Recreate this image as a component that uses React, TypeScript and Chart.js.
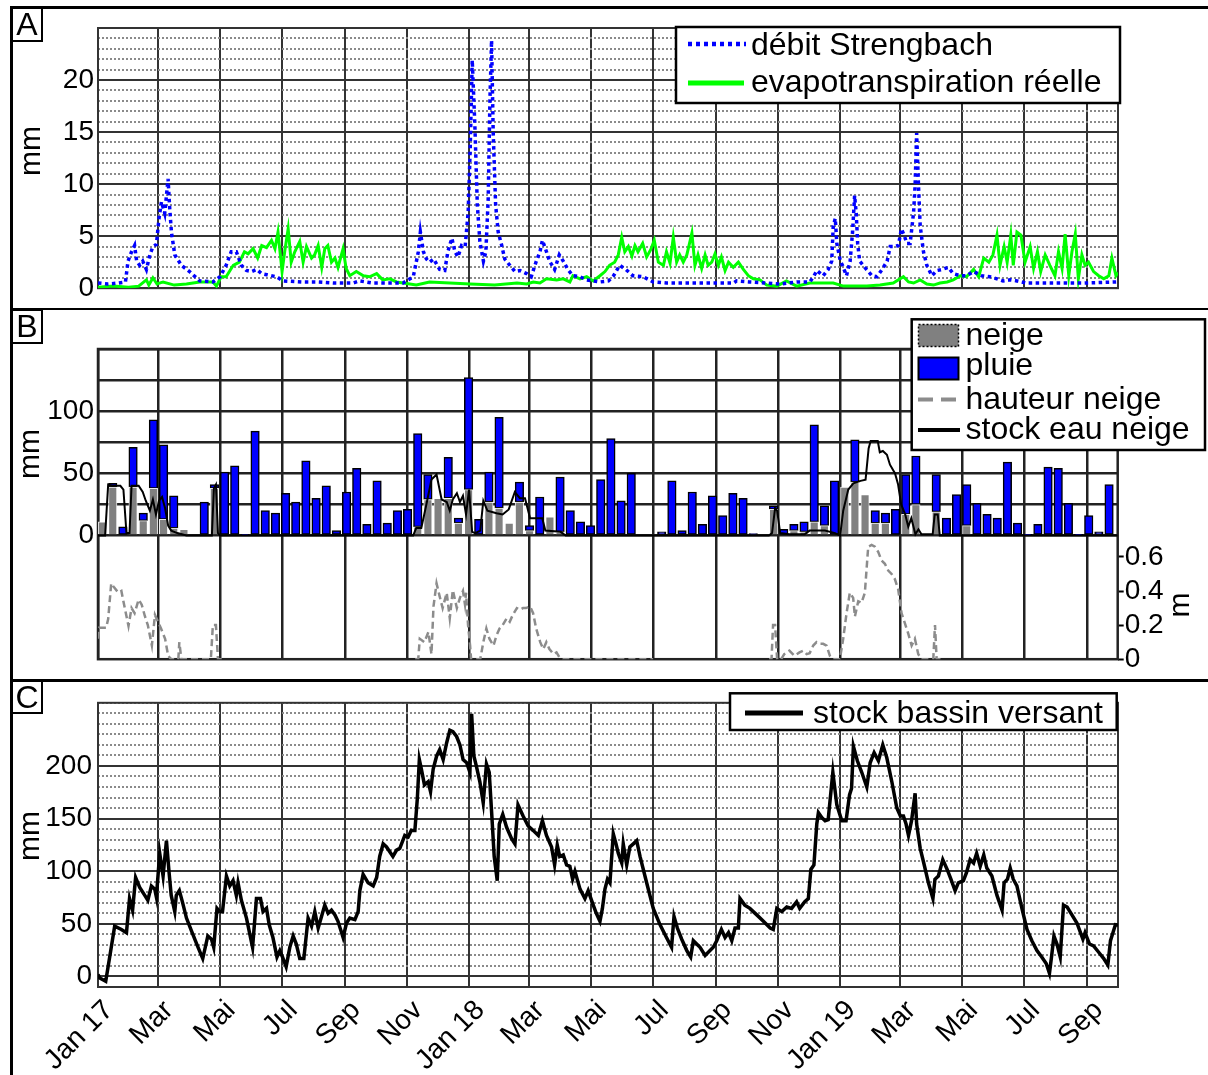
import React, { useEffect, useRef } from 'react';
import { Chart, registerables } from 'chart.js';

Chart.register(...registerables);

const FONT = '"Liberation Sans", Arial, Helvetica, sans-serif';

// ---------- shared time axis (days since 1 Jan 2017) ----------
const monthTickDays = [0, 59, 120, 181, 243, 304, 365, 424, 485, 546, 608, 669, 730, 789, 850, 911, 973];
const monthTickLabels = ['Jan 17', 'Mar', 'Mai', 'Jul', 'Sep', 'Nov', 'Jan 18', 'Mar', 'Mai', 'Jul', 'Sep', 'Nov', 'Jan 19', 'Mar', 'Mai', 'Jul', 'Sep'];
const xMaxDay = 1003;

// ---------- Panel A ----------
const debitStrengbach: [number, number][] = [
  [0, 0.5], [10, 0.4], [20, 0.5], [27, 0.6], [29.5, 2.6], [33, 3.5], [36, 4.1], [38, 2.6], [41, 2.2], [44, 2.6], [47.6, 1.8], [51, 3.2], [54, 4.0], [57.4, 4.2], [60, 6.7], [62.4, 8.3], [65.6, 7.2], [68.9, 10.5], [70.5, 7.7], [72.2, 5.4], [75.5, 3.2], [82, 2.2], [90, 1.6], [100, 0.7], [113, 0.6], [120, 1.1], [126, 2.2], [131, 3.5], [136, 3.5], [141, 2.2], [146, 1.7], [151, 1.6], [156, 1.8], [161, 1.4], [166, 1.3], [175.5, 1.1], [182, 0.7], [200, 0.6], [215, 0.6], [231, 0.5], [251, 0.5], [257, 0.7], [270, 0.5], [300, 0.5],
  [310, 1.1], [315, 3.5], [317, 5.4], [320, 3.5], [323, 2.8], [326, 2.5], [330, 2.8], [336, 1.8], [341, 1.7], [344, 3.5], [348, 4.8], [351, 3.5], [354, 3.0], [357.5, 4.1], [361, 4.0], [364, 7.3], [366, 13.4], [368, 21.9], [370.6, 15.6], [373, 8.0], [375.5, 4.5], [379, 2.6], [381.4, 3.5], [383.7, 8.6], [385.4, 18.1], [387, 23.8], [388.6, 15.0], [391, 8.0], [393.5, 5.4], [397, 4.1], [400, 2.8], [405, 2.2], [410, 1.6], [415, 1.7], [421.5, 1.4], [426, 1.1], [431, 2.6], [434.6, 3.5], [437, 4.6], [441, 3.5], [444, 2.6], [449, 1.8], [453.6, 3.2], [457.5, 2.6], [462, 1.8], [467, 1.2], [474, 1.1], [480.5, 0.8], [487, 0.7], [493.6, 0.6], [502, 0.7], [507, 1.2], [513, 2.2], [519, 1.8], [526, 1.2], [536, 1.1], [546, 0.6], [559, 0.5], [592, 0.5], [625, 0.5], [628, 0.7], [640, 0.6], [658, 0.5], [671, 0.4], [687, 0.6],
  [700, 0.6], [703.5, 1.1], [707, 1.7], [713, 1.2], [718, 1.8], [721.5, 2.6], [723, 6.0], [725, 6.7], [726.5, 4.3], [730, 2.6], [732, 2.2], [736, 1.2], [739.6, 2.6], [742, 5.4], [744, 8.9], [745.6, 7.2], [747, 4.3], [749, 2.6], [754, 2.0], [761, 1.2], [766, 1.1], [771, 1.8], [776, 2.6], [779, 4.0], [784, 4.0], [787, 4.1], [790, 5.7], [793, 5.0], [795.4, 4.3], [798.6, 4.3], [802, 7.3], [803.5, 9.9], [805, 14.9], [806.8, 9.9], [808.5, 6.0], [811.7, 3.5], [815, 2.2], [820, 1.2], [825, 1.7], [830, 1.8], [836, 2.0], [841, 1.4], [848, 1.2], [854, 1.2], [861, 1.6], [869, 1.2], [877, 1.1], [884, 0.9], [890, 0.7], [897, 0.8], [903.6, 0.7], [913, 0.5], [940, 0.5], [970, 0.5], [1003, 0.6],
];

const evapotranspiration: [number, number][] = [
  [0, 0.1], [15, 0.2], [30, 0.1], [40, 0.2], [47.6, 0.8], [50, 0.3], [54, 1.0], [58, 0.4], [64, 0.6], [75, 0.3], [87, 0.4], [100, 0.6], [113, 0.6], [116.5, 0.2], [121, 1.1], [126, 1.1], [133, 2.2], [139, 2.5], [144, 3.5], [147.6, 3.3], [152.5, 3.8], [157, 2.9], [161, 4.1], [165.7, 3.9], [170.6, 4.6], [174, 3.8], [177, 5.4], [181, 1.6], [183.7, 3.6], [187, 5.7], [190, 2.5], [193.5, 3.5], [198.4, 4.5], [201.7, 2.5], [205, 4.0], [210, 2.9], [213, 3.2], [216.5, 4.1], [220, 2.0], [223, 3.8], [226, 4.1], [229.6, 2.5], [233, 2.9], [236, 2.0], [241, 3.8], [244, 1.9], [247.6, 1.2], [254, 1.6], [261, 1.2], [267, 1.1], [274, 1.4], [280, 0.8], [287, 0.9], [293.6, 0.6],
  [300, 0.5], [313, 0.3], [326, 0.6], [346, 0.5], [366, 0.4], [390, 0.3], [412, 0.5], [421.5, 0.4], [428, 0.6], [434.6, 0.5], [441, 0.9], [451, 0.8], [457.5, 0.9], [464, 0.6], [467, 1.2], [474, 0.9], [480.5, 1.1], [487, 0.7], [493.6, 1.2], [498.5, 1.6], [503, 2.2], [508, 2.5], [511.6, 3.2], [515, 4.9], [518, 3.5], [521.5, 4.0], [525, 3.1], [528, 4.1], [531, 3.5], [535.6, 4.3], [539.5, 3.0], [543.5, 3.7], [547, 4.6], [551, 2.5], [556, 2.2], [559, 3.5], [562.5, 2.4], [565.7, 4.9], [569, 2.5], [572, 3.2], [575.5, 2.5], [579, 3.2], [584, 5.3], [587, 2.2], [590, 3.2], [593.6, 1.9], [597, 3.2], [600, 2.2], [603.5, 2.5], [606.7, 3.3], [610, 2.2], [613, 3.0], [616.6, 1.7], [620, 2.5], [624.7, 2.0], [629.7, 2.5], [634.6, 1.8], [639.5, 1.2], [644.4, 0.9], [651, 0.8], [657.6, 0.3], [667.5, 0.2], [677, 0.7], [687, 0.2],
  [700, 0.5], [723, 0.5], [733, 0.2], [756, 0.2], [769, 0.3], [782, 0.5], [792, 1.1], [797, 0.6], [802, 0.5], [808.5, 0.8], [815, 0.4], [821.5, 0.3], [828, 0.5], [835, 0.6], [841, 0.8], [848, 1.2], [854, 1.1], [861, 1.8], [866, 1.1], [871, 2.9], [876, 2.5], [880, 3.2], [884, 5.1], [887, 2.2], [891, 4.0], [894, 2.5], [897.6, 5.1], [900, 2.2], [903.6, 5.4], [907.5, 5.1], [911.6, 2.5], [916.6, 4.0], [920, 1.9], [923.8, 3.5], [927, 1.6], [931.4, 3.2], [936, 2.2], [941, 1.2], [944.5, 3.5], [948, 1.9], [951, 5.2], [954.6, 1.2], [957.7, 3.5], [961, 5.2], [964, 0.9], [967.5, 3.2], [970.6, 2.2], [974, 2.5], [979, 1.6], [984, 1.2], [989, 0.9], [994, 1.2], [997, 2.9], [1001, 1.2], [1003, 1.5],
];

// ---------- Panel B (10-day totals, mm) ----------
const neigeValues = [
  11, 39, 0, 39, 12, 38, 13, 6, 5, 0,
  0, 38, 0, 0, 0, 0, 0, 0, 0, 0,
  0, 0, 0, 0, 0, 0, 0, 0, 0, 0,
  0, 7, 29, 30, 30, 10, 37, 0, 27, 22,
  10, 27, 4, 0, 15, 3, 0, 0, 0, 0,
  0, 0, 0, 0, 0, 0, 0, 0, 0, 0,
  0, 0, 0, 0, 0, 0, 21, 0, 4, 3,
  11, 8, 0, 39, 43, 33, 10, 10, 0, 17,
  25, 0, 19, 0, 0, 8, 0, 0, 0, 0,
  0, 0, 0, 0, 0, 0, 0, 0, 0, 0,
];
const pluieValues = [
  0, 3, 7, 32, 6, 55, 60, 26, 0, 0,
  27, 3, 51, 56, 1, 84, 20, 18, 34, 27,
  60, 30, 40, 4, 35, 54, 9, 44, 10, 20,
  21, 75, 20, 0, 33, 4, 90, 13, 24, 73,
  0, 16, 4, 31, 0, 44, 20, 11, 8, 45,
  78, 28, 50, 0, 0, 3, 44, 4, 35, 9,
  32, 16, 34, 30, 1.5, 0, 3, 5, 5, 8,
  78, 16, 44, 0, 34, 0, 10, 8, 21, 32,
  39, 0, 30, 14, 33, 33, 26, 17, 14, 59,
  10, 0.5, 9, 55, 54, 26, 0.5, 16, 3, 41,
];
const binLengthDays = 10;

const stockEauNeige: [number, number][] = [
  [0, 0], [7, 0], [10, 41], [14, 40], [22, 40], [25, 37], [28, 2], [31, 2], [33, 40], [40, 40], [44, 35], [47, 28], [51, 20], [54, 29], [57, 17], [60, 28], [63, 31], [66, 22], [69, 8], [72, 4], [78, 2], [87, 0], [112, 0], [114, 38], [116, 41], [118, 2], [120, 0],
  [305, 0], [310, 0], [313, 6], [318, 6], [323, 25], [328, 45], [333, 49], [338, 29], [343, 27], [346, 20], [349, 29], [353, 34], [356, 27], [359, 32], [362, 17], [365, 37], [368, 3], [371, 2], [376, 4], [379, 28], [383, 20], [392, 18], [398, 17], [404, 21], [410, 35], [415, 30], [420, 30], [425, 14], [437, 14], [440, 4], [455, 3], [460, 0],
  [660, 0], [663, 2], [666, 22], [668, 20], [671, 2], [680, 1], [695, 1], [700, 4], [715, 4], [725, 2], [730, 0], [733, 20], [738, 37], [743, 42], [750, 44], [755, 45], [758, 70], [760, 76], [767, 76], [769, 67], [772, 68], [776, 65], [779, 57], [784, 50], [787, 41], [790, 25], [794, 17], [797, 7], [800, 14], [804, 1], [807, 5], [810, 1], [821, 1], [823, 17], [826, 17], [828, 0], [1003, 0],
];

const hauteurNeige: [number, number | null][] = [
  [0, 0.12], [1, 0.185], [8, 0.185], [10, 0.235], [13, 0.445], [16, 0.42], [20, 0.39], [23, 0.40], [26, 0.31], [30, 0.195], [33, 0.30], [36, 0.27], [40, 0.35], [43, 0.32], [46, 0.255], [49, 0.20], [53, 0.08], [56, 0.26], [59, 0.22], [62, 0.18], [66, 0.12], [69, 0.02], [72, 0], [79, 0], [80, 0.10], [82, 0], [111, 0], [113, 0.2], [116, 0.2], [118, 0], [122, 0], [123, null],
  [312, 0], [315, 0], [316.5, 0.12], [321, 0.10], [325, 0.16], [328, 0.03], [330, 0.31], [333, 0.445], [336, 0.37], [339, 0.30], [343, 0.39], [346, 0.24], [349, 0.405], [353, 0.30], [356, 0.36], [359, 0.40], [361, 0.32], [362, 0.39], [364, 0.20], [366, 0.08], [367, 0], [376, 0], [379, 0.10], [382, 0.18], [385, 0.12], [389, 0.08], [392, 0.14], [395, 0.18], [398, 0.20], [402, 0.24], [405, 0.22], [408, 0.26], [412, 0.30], [415, 0.29], [418, 0.30], [421, 0.30], [425, 0.31], [428, 0.27], [431, 0.18], [435, 0.10], [438, 0.06], [441, 0.10], [444, 0.06], [448, 0.03], [451, 0.04], [454, 0.01], [457, 0], [546, 0], [547, null],
  [660, 0], [662.5, 0], [664, 0.2], [666, 0.2], [668, 0], [672, 0], [675, 0.03], [680, 0.05], [685, 0.02], [690, 0.04], [693.7, 0.05], [697, 0.03], [700, 0.035], [703.5, 0.08], [706.8, 0.10], [710, 0.09], [713.3, 0.09], [716.6, 0.08], [719.9, 0.02], [723.2, 0], [729.7, 0], [733, 0.12], [736.3, 0.27], [739.5, 0.39], [742.8, 0.36], [744.5, 0.25], [747.8, 0.34], [751, 0.33], [754.3, 0.39], [757.6, 0.66], [760.9, 0.67], [764.2, 0.66], [767.4, 0.63], [770.7, 0.58], [774, 0.56], [777.3, 0.52], [780.6, 0.50], [783.8, 0.47], [787.1, 0.41], [790.4, 0.27], [793.7, 0.21], [797, 0.15], [800.3, 0.08], [803.5, 0.12], [806.8, 0.03], [810, 0], [821.6, 0], [823.3, 0.2], [824.9, 0], [830, 0],
];

// ---------- Panel C ----------
const stockBassinVersant: [number, number][] = [
  [0, 2], [1.7, -1.5], [7.6, -4.6], [11.5, 18.5], [16.4, 47.8], [23, 44.7], [28, 41.6], [31, 74], [34, 63], [37, 94], [41, 84.7], [46, 77], [49, 72.4], [52.5, 86], [55.8, 83], [57.4, 75.5], [60.7, 117], [64, 95.5], [67.3, 129], [69.9, 98.6], [72, 77], [75.5, 61.6], [77, 77], [80, 81.6], [83, 70.9], [87, 55.5], [92, 43], [98.4, 27.7], [103, 17], [108, 38.5], [111.6, 35.4], [113.8, 27.7], [117, 64.7], [119.7, 61.6], [122.4, 61.6], [126.3, 95.5], [129.6, 86], [132.8, 91], [136, 77], [137.7, 89], [141, 72.4], [146, 55.5], [152, 27.7], [155.8, 74], [159.8, 74], [162.3, 61.6], [165.7, 64.7], [168.3, 49.3], [172, 37], [176, 18.5], [178.8, 24.6], [181.4, 18.5], [185, 9.2], [188.6, 27.7], [191.9, 38.5], [195, 30.8], [198.4, 17], [202.4, 17], [206.6, 55.5], [210, 47.8], [213.2, 61.6], [216.5, 46], [219.8, 57], [223, 67.8], [226.3, 60], [229.6, 63], [233, 58.5], [236, 52.4], [241, 37], [244.4, 50.8], [247.6, 55.5], [252.6, 54], [255.8, 61.6], [257.5, 81.6], [260.7, 97], [265.6, 89], [270.6, 86], [274, 94], [277, 114], [280.4, 126], [283.7, 123], [290, 114], [293.6, 120],
  [296.8, 121.7], [301.7, 134], [305, 132.5], [308, 138.6], [311.6, 138.6], [314, 169], [316, 206], [318, 197], [321, 182], [324.7, 185], [327, 175.6], [329.6, 197], [333, 209.5], [336, 215.6], [339.4, 206], [342.8, 221.8], [346, 234], [349, 232.6], [352.6, 228], [355.9, 220], [359, 206], [362.5, 203], [365.7, 194], [367.4, 249.5], [369.6, 209.5], [372, 200], [375.5, 185], [378.8, 165], [382, 201.8], [384.7, 194], [387, 157], [389.6, 114], [392.6, 91], [394.6, 144.8], [398, 154], [401.8, 141.7], [406.7, 131], [410, 126], [413, 163], [418, 152.5], [423, 143], [428, 138.6], [433, 134], [437, 148], [441, 134], [446, 123], [449, 106], [451.6, 124.8], [454, 114], [457.5, 115.5], [460.8, 106], [464, 104.7], [466.7, 92.4], [469, 100], [474, 83], [478.8, 74], [482, 81.6], [487, 67.8], [490, 60], [493.6, 52.4], [496, 64.7], [498.5, 83], [501, 92.4], [503.4, 89], [506.7, 135.6], [509.4, 126], [511.6, 117], [515, 107.8], [516.5, 126], [519.9, 106], [523, 123], [526.4, 126], [529.7, 129], [533, 114], [539.5, 89], [546, 64.7], [552.6, 49.3], [559, 37], [564, 27.7], [566.4, 57], [569.7, 46], [574, 35.4], [579, 24.6], [582.8, 18.5], [585.4, 34], [588.7, 30.8], [592, 27.7], [597, 20], [601.8, 24.6], [605, 27.7], [608.4, 34], [613, 44.7], [616.6, 37], [620, 41.6], [623.2, 34], [626.4, 46], [629.7, 46], [631.3, 74], [636, 67.8], [641, 64.7], [647.8, 58.5], [654.3, 52.4], [661, 46], [664, 44.7], [667.5, 64.7], [672.4, 61.6], [677.3, 66], [682, 64.7], [687, 70.9],
  [690, 64.7], [695, 71], [698.5, 74], [701, 101.7], [704, 106], [706.8, 144.8], [708.4, 155.6], [711.7, 151], [715, 148], [718, 149], [722.6, 194], [726.5, 163], [731.4, 148], [735.6, 148], [739, 172.5], [741, 178.7], [742.8, 218.7], [746.7, 204.9], [751, 194], [756, 180], [759.3, 203], [763.2, 212.6], [767.4, 204.9], [771.7, 220], [775.6, 208], [780.6, 185], [785.5, 160], [789, 152.5], [792, 152.5], [794.6, 144.8], [797, 134], [800, 148], [803.5, 174], [805, 144.8], [808.5, 121.7], [812, 107.8], [816.6, 89], [821, 74], [823, 92.4], [826.4, 95.5], [830.7, 111], [835, 101.7], [838.7, 92.4], [842.8, 81.6], [846, 89], [851, 91], [854, 98.6], [857.6, 111], [861, 107.8], [864, 117], [867.5, 104.7], [871, 115.5], [874, 103], [879, 95.5], [884, 77], [889, 63], [891, 89], [894.3, 92.4], [897, 103], [900, 92.4], [903.6, 86], [908.5, 64.7], [913.5, 44.7], [918.3, 34], [923.3, 24.6], [928, 18.5], [932.4, 12.3], [935.6, 3], [938, 21.6], [940, 38.5], [943, 30.8], [946.2, 18.5], [949.4, 67.8], [953, 66], [957.7, 58.5], [962.6, 50.8], [968.5, 35.4], [970.6, 41.6], [975, 30.8], [979, 29], [984, 23], [989, 17], [993, 10.8], [995.6, 34], [1000.5, 49.3], [1003, 49],
];

// ---------- helpers ----------
const toXY = (pairs: [number, number | null][]) => pairs.map(([x, y]) => ({ x, y }));
const tickObjs = (vals: number[]) => vals.map((v) => ({ value: v }));
const rangeTicks = (min: number, max: number, step: number) => {
  const out: number[] = [];
  for (let v = min; v <= max + 1e-9; v += step) out.push(Math.round(v * 1000) / 1000);
  return out;
};

function xScale(showLabels: boolean, height: number, gridColor: string, gridWidth: number, stacked = false) {
  return {
    type: 'linear',
    min: 0,
    max: xMaxDay,
    offset: false,
    stacked,
    afterBuildTicks: (s: any) => { s.ticks = tickObjs(monthTickDays); },
    afterFit: (s: any) => { s.height = height; },
    grid: { color: gridColor, lineWidth: gridWidth, drawTicks: false, offset: false },
    border: { display: false },
    ticks: showLabels
      ? {
          display: true, autoSkip: false, minRotation: 45, maxRotation: 45, padding: 7, labelOffset: 11,
          font: { family: FONT, size: 28 }, color: '#000',
          callback: (_v: any, i: number) => monthTickLabels[i],
        }
      : { display: false },
  };
}

const framePlugin = (color: string, width: number) => ({
  id: 'frame',
  beforeDatasetsDraw(chart: any) {
    const { ctx, chartArea: a } = chart;
    ctx.save();
    ctx.strokeStyle = color;
    ctx.lineWidth = width;
    ctx.setLineDash([]);
    ctx.strokeRect(a.left, a.top, a.right - a.left, a.bottom - a.top);
    ctx.restore();
  },
});

function rotatedText(ctx: CanvasRenderingContext2D, text: string, x: number, y: number, size: number) {
  ctx.save();
  ctx.translate(x, y);
  ctx.rotate(-Math.PI / 2);
  ctx.font = `${size}px ${FONT}`;
  ctx.textAlign = 'center';
  ctx.textBaseline = 'middle';
  ctx.fillStyle = '#000';
  ctx.fillText(text, 0, 0);
  ctx.restore();
}

export default function App() {
  const refA = useRef<HTMLCanvasElement>(null);
  const refB = useRef<HTMLCanvasElement>(null);
  const refC = useRef<HTMLCanvasElement>(null);

  useEffect(() => {
    Chart.defaults.font.family = FONT;
    const charts: Chart[] = [];

    // ----- Panel A -----
    const isMajorA = (v: number) => v % 5 === 0 && v <= 20;
    charts.push(new Chart(refA.current as HTMLCanvasElement, {
      type: 'line',
      data: {
        datasets: [
          { label: 'débit Strengbach', data: toXY(debitStrengbach), borderColor: '#0000ff', borderWidth: 3.5, borderDash: [3.5, 3.5], pointRadius: 0, tension: 0, order: 0 },
          { label: 'evapotranspiration réelle', data: toXY(evapotranspiration), borderColor: '#00ff00', borderWidth: 3, pointRadius: 0, tension: 0, order: 1 },
        ],
      } as any,
      options: {
        responsive: false, animation: false, devicePixelRatio: 1,
        layout: { padding: { left: 0, right: 90, top: 28, bottom: 19 } },
        plugins: { legend: { display: false }, tooltip: { enabled: false } },
        scales: {
          x: xScale(false, 0, '#333', 2),
          y: {
            type: 'linear', min: 0, max: 25,
            afterBuildTicks: (s: any) => { s.ticks = tickObjs(rangeTicks(0, 25, 1)); },
            afterFit: (s: any) => { s.width = 98; },
            ticks: { autoSkip: false, padding: 4, font: { family: FONT, size: 28 }, color: '#000', callback: (v: any) => (isMajorA(v) ? String(v) : '') },
            grid: { drawTicks: false, color: (c: any) => (c.tick && isMajorA(c.tick.value) ? '#333' : '#8a8a8a'), lineWidth: 2 },
            border: { display: false, dash: (c: any) => (c.tick && !isMajorA(c.tick.value) ? [2, 2] : []) },
          },
        } as any,
      },
      plugins: [
        framePlugin('#333', 2),
        {
          id: 'legendA',
          afterDraw(chart: any) {
            const ctx = chart.ctx as CanvasRenderingContext2D;
            rotatedText(ctx, 'mm', 32, 151, 30);
            ctx.save();
            ctx.fillStyle = '#fff';
            ctx.fillRect(676, 27, 444, 76);
            ctx.strokeStyle = '#000';
            ctx.lineWidth = 2.5;
            ctx.strokeRect(676, 27, 444, 76);
            ctx.beginPath();
            ctx.setLineDash([4, 4]);
            ctx.strokeStyle = '#0000ff';
            ctx.lineWidth = 4.5;
            ctx.moveTo(688, 44); ctx.lineTo(746, 44);
            ctx.stroke();
            ctx.setLineDash([]);
            ctx.beginPath();
            ctx.strokeStyle = '#00ff00';
            ctx.lineWidth = 5;
            ctx.moveTo(688, 83); ctx.lineTo(744, 83);
            ctx.stroke();
            ctx.fillStyle = '#000';
            ctx.font = `32px ${FONT}`;
            ctx.textBaseline = 'alphabetic';
            ctx.textAlign = 'left';
            ctx.fillText('débit Strengbach', 751, 55);
            ctx.fillText('evapotranspiration réelle', 751, 92);
            ctx.restore();
          },
        },
      ],
    }));

    // ----- Panel B -----
    const binCenters = neigeValues.map((_, k) => k * binLengthDays + binLengthDays / 2 - 0.5);
    const bTicks = rangeTicks(0, 150, 25);
    const y2Ticks = [0, 0.2, 0.4, 0.6];
    const y2Labels = ['0', '0.2', '0.4', '0.6'];
    charts.push(new Chart(refB.current as HTMLCanvasElement, {
      type: 'line',
      data: {
        datasets: [
          { type: 'line', label: 'stock eau neige', data: toXY(stockEauNeige), yAxisID: 'y', stack: 'snowline', borderColor: '#000', borderWidth: 2, pointRadius: 0, tension: 0, order: 0 },
          { type: 'line', label: 'hauteur neige', data: toXY(hauteurNeige), yAxisID: 'y2', borderColor: '#8c8c8c', borderWidth: 2.5, borderDash: [7, 4], pointRadius: 0, tension: 0, spanGaps: false, order: 1 },
          { type: 'bar', label: 'neige', data: binCenters.map((x, i) => ({ x, y: neigeValues[i] })), yAxisID: 'y', stack: 'precip', backgroundColor: '#808080', borderColor: 'rgba(255,255,255,0.85)', borderWidth: 1, barThickness: 8.5, order: 2 },
          { type: 'bar', label: 'pluie', data: binCenters.map((x, i) => ({ x, y: pluieValues[i] })), yAxisID: 'y', stack: 'precip', backgroundColor: '#0000ff', borderColor: '#000', borderWidth: 1.5, borderSkipped: false, barThickness: 8.5, order: 3 },
        ],
      } as any,
      options: {
        responsive: false, animation: false, devicePixelRatio: 1,
        layout: { padding: { left: 0, right: 0, top: 40, bottom: 16.5 } },
        plugins: { legend: { display: false }, tooltip: { enabled: false } },
        scales: {
          x: xScale(false, 0, '#222', 2.5, true),
          y: {
            type: 'linear', min: -99.4, max: 150, stacked: true,
            afterBuildTicks: (s: any) => { s.ticks = tickObjs(bTicks); },
            afterFit: (s: any) => { s.width = 98; },
            ticks: { autoSkip: false, padding: 4, font: { family: FONT, size: 28 }, color: '#000', callback: (v: any) => (v % 50 === 0 && v <= 100 ? String(v) : '') },
            grid: { drawTicks: false, color: '#222', lineWidth: 2.5 },
            border: { display: false },
          },
          y2: {
            type: 'linear', position: 'right', min: 0, max: 1.82,
            afterBuildTicks: (s: any) => { s.ticks = tickObjs(y2Ticks); },
            afterFit: (s: any) => { s.width = 90.3; },
            ticks: { autoSkip: false, padding: 1, font: { family: FONT, size: 28 }, color: '#000', callback: (_v: any, i: number) => y2Labels[i] },
            grid: { drawOnChartArea: false, drawTicks: true, tickLength: 6, tickColor: '#000', tickWidth: 2 },
            border: { display: false },
          },
        } as any,
      },
      plugins: [
        framePlugin('#222', 2.5),
        {
          id: 'legendB',
          afterDraw(chart: any) {
            const ctx = chart.ctx as CanvasRenderingContext2D;
            rotatedText(ctx, 'mm', 31, 145, 30);
            rotatedText(ctx, 'm', 1181, 296, 30);
            const top = 10.3;
            ctx.save();
            ctx.fillStyle = '#fff';
            ctx.fillRect(911.7, top, 293.3, 130.7);
            ctx.strokeStyle = '#000';
            ctx.lineWidth = 2.5;
            ctx.strokeRect(911.7, top, 293.3, 130.7);
            // neige box
            ctx.fillStyle = '#808080';
            ctx.fillRect(918.5, 15.5, 40, 22);
            ctx.setLineDash([2, 2]);
            ctx.strokeStyle = '#000';
            ctx.lineWidth = 1.5;
            ctx.strokeRect(918.5, 15.5, 40, 22);
            ctx.setLineDash([]);
            // pluie box
            ctx.fillStyle = '#0000ff';
            ctx.fillRect(918.5, 48.5, 40, 22);
            ctx.strokeStyle = '#000';
            ctx.lineWidth = 2;
            ctx.strokeRect(918.5, 48.5, 40, 22);
            // hauteur neige
            ctx.beginPath();
            ctx.setLineDash([15, 8]);
            ctx.strokeStyle = '#8c8c8c';
            ctx.lineWidth = 4;
            ctx.moveTo(918, 90.5); ctx.lineTo(960, 90.5);
            ctx.stroke();
            ctx.setLineDash([]);
            // stock eau neige
            ctx.beginPath();
            ctx.strokeStyle = '#000';
            ctx.lineWidth = 4;
            ctx.moveTo(918, 121); ctx.lineTo(960, 121);
            ctx.stroke();
            ctx.fillStyle = '#000';
            ctx.font = `32px ${FONT}`;
            ctx.textAlign = 'left';
            ctx.textBaseline = 'alphabetic';
            ctx.fillText('neige', 965.5, 36);
            ctx.fillText('pluie', 965.5, 66);
            ctx.fillText('hauteur neige', 965.5, 99.5);
            ctx.fillText('stock eau neige', 965.5, 129.5);
            ctx.restore();
          },
        },
      ],
    }));

    // ----- Panel C -----
    const isMajorC = (v: number) => v % 50 === 0 && v >= 0 && v <= 200;
    charts.push(new Chart(refC.current as HTMLCanvasElement, {
      type: 'line',
      data: {
        datasets: [
          { label: 'stock bassin versant', data: toXY(stockBassinVersant), borderColor: '#000', borderWidth: 3.5, pointRadius: 0, tension: 0 },
        ],
      } as any,
      options: {
        responsive: false, animation: false, devicePixelRatio: 1,
        layout: { padding: { left: 0, right: 90, top: 15, bottom: 0 } },
        plugins: { legend: { display: false }, tooltip: { enabled: false } },
        scales: {
          x: xScale(true, 88, '#333', 2),
          y: {
            type: 'linear', min: -10, max: 260,
            afterBuildTicks: (s: any) => { s.ticks = tickObjs(rangeTicks(-10, 260, 10)); },
            afterFit: (s: any) => { s.width = 98; },
            ticks: { autoSkip: false, padding: 6, font: { family: FONT, size: 28 }, color: '#000', callback: (v: any) => (isMajorC(v) ? String(v) : '') },
            grid: { drawTicks: false, color: (c: any) => (c.tick && isMajorC(c.tick.value) ? '#333' : '#8a8a8a'), lineWidth: 2 },
            border: { display: false, dash: (c: any) => (c.tick && !isMajorC(c.tick.value) ? [2, 2] : []) },
          },
        } as any,
      },
      plugins: [
        framePlugin('#333', 2),
        {
          id: 'legendC',
          afterDraw(chart: any) {
            const ctx = chart.ctx as CanvasRenderingContext2D;
            rotatedText(ctx, 'mm', 31, 156, 30);
            ctx.save();
            ctx.fillStyle = '#fff';
            ctx.fillRect(730, 13.3, 386.7, 36.7);
            ctx.strokeStyle = '#000';
            ctx.lineWidth = 2.5;
            ctx.strokeRect(730, 13.3, 386.7, 36.7);
            ctx.beginPath();
            ctx.strokeStyle = '#000';
            ctx.lineWidth = 5;
            ctx.moveTo(745, 33); ctx.lineTo(803, 33);
            ctx.stroke();
            ctx.fillStyle = '#000';
            ctx.font = `32px ${FONT}`;
            ctx.textAlign = 'left';
            ctx.textBaseline = 'alphabetic';
            ctx.fillText('stock bassin versant', 813, 43);
            ctx.restore();
          },
        },
      ],
    }));

    return () => { charts.forEach((c) => c.destroy()); };
  }, []);

  const hLine = (top: number) => (
    <div style={{ position: 'absolute', left: 10, top, width: 1198, height: 2.5, background: '#000', zIndex: 5 }} />
  );
  const labelBox = (text: string, top: number, height: number) => (
    <div style={{ position: 'absolute', left: 11, top, width: 32, height, boxSizing: 'border-box', border: '2.5px solid #000', background: '#fff', zIndex: 6, font: `32px ${FONT}`, lineHeight: `${height - 4}px`, textAlign: 'center', color: '#000' }}>{text}</div>
  );

  return (
    <div style={{ position: 'absolute', left: 0, top: 0, width: 1208, height: 1075, background: '#fff', overflow: 'hidden' }}>
      <canvas ref={refA} width={1208} height={309} style={{ position: 'absolute', left: 0, top: 0 }} />
      <canvas ref={refB} width={1208} height={371} style={{ position: 'absolute', left: 0, top: 309 }} />
      <canvas ref={refC} width={1208} height={395} style={{ position: 'absolute', left: 0, top: 680 }} />
      {hLine(6)}
      {hLine(307.5)}
      {hLine(679)}
      <div style={{ position: 'absolute', left: 10, top: 6, width: 2.5, height: 1069, background: '#000', zIndex: 5 }} />
      {labelBox('A', 6.5, 35.5)}
      {labelBox('B', 309, 35)}
      {labelBox('C', 680, 34)}
    </div>
  );
}
